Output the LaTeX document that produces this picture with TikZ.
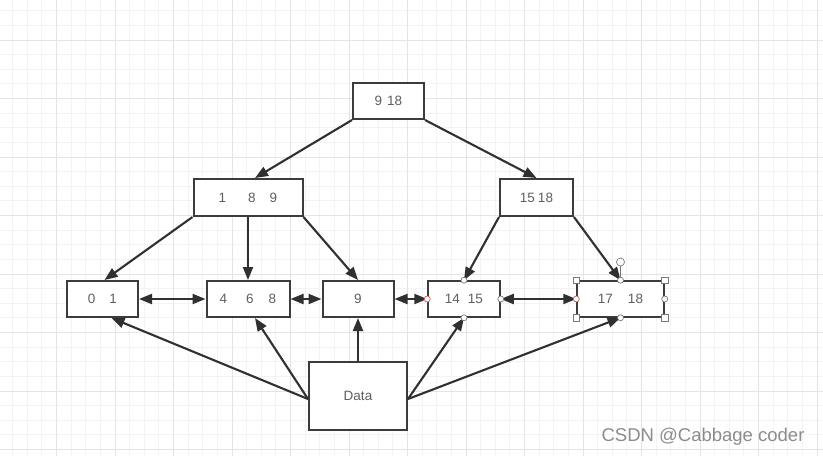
\documentclass[tikz,border=0pt]{standalone}
\usepackage{fontspec}
\setmainfont{Liberation Sans}
\usetikzlibrary{arrows.meta}
\definecolor{gridminor}{RGB}{243,243,243}
\definecolor{gridmajor}{RGB}{228,228,228}
\definecolor{boxline}{RGB}{60,60,60}
\definecolor{arrowline}{RGB}{48,48,48}
\definecolor{txt}{RGB}{95,95,95}
\definecolor{wm}{RGB}{140,140,140}
\definecolor{handle}{RGB}{120,120,120}
\definecolor{redhandle}{RGB}{200,90,80}
\tikzset{
  minorline/.style={draw=gridminor, line width=0.8pt},
  majorline/.style={draw=gridmajor, line width=0.9pt},
  keybox/.style={draw=boxline, line width=2pt, fill=white, rectangle, inner sep=0pt,
    minimum height=36pt, text=txt, font=\fontsize{13.5}{15}\selectfont},
  selbox/.style={keybox, line width=1.5pt},
  link/.style={draw=arrowline, line width=2.1pt, -{Triangle[length=13pt,width=10pt]}},
  dlink/.style={draw=arrowline, line width=2.1pt, {Triangle[length=13pt,width=10pt]}-{Triangle[length=13pt,width=10pt]}},
  hcirc/.style={circle, draw=handle, fill=white, line width=0.7pt, minimum size=6pt, inner sep=0pt},
  hcircred/.style={hcirc, draw=redhandle},
  hsq/.style={rectangle, draw=handle, fill=white, line width=0.7pt, minimum size=6.5pt, inner sep=0pt},
}
\begin{document}
\begin{tikzpicture}[x=1pt, y=-1pt]
\useasboundingbox (0,0) rectangle (823,456);
\fill[white] (0,0) rectangle (823,456);
% grid
\foreach \i in {-7,...,48} \draw[minorline] ({115+\i*14.625},0) -- ({115+\i*14.625},456);
\foreach \j in {-2,...,28} \draw[minorline] (0,{40+\j*14.625}) -- (823,{40+\j*14.625});
\foreach \i in {-1,...,12} \draw[majorline] ({115+\i*58.5},0) -- ({115+\i*58.5},456);
\foreach \j in {-1,...,7} \draw[majorline] (0,{40+\j*58.5}) -- (823,{40+\j*58.5});

% nodes
\node[keybox, minimum width=71pt] (root) at (388.5,101) {9\hspace{5pt}18};
\node[keybox, minimum width=109pt, minimum height=37pt] (n189) at (248,197.5) {1\hspace{22pt}8\hspace{14pt}9};
\node[keybox, minimum width=73pt, minimum height=37pt] (n1518) at (536.5,197.5) {15\hspace{3pt}18};
\node[keybox, minimum width=71pt] (n01) at (102.5,299) {0\hspace{14pt}1};
\node[keybox, minimum width=83pt] (n468) at (248,299) {4\hspace{19pt}6\hspace{15pt}8};
\node[keybox, minimum width=71pt] (n9) at (358,299) {9};
\node[selbox, minimum width=72pt] (n1415) at (464,299) {14\hspace{8pt}15};
\node[selbox, minimum width=87pt] (n1718) at (620.5,299) {17\hspace{15pt}18};
\node[keybox, minimum width=98pt, minimum height=68pt] (data) at (358,396) {Data};

% tree links
\draw[link] (root.south west) -- ([xshift=7pt]n189.north);
\draw[link] (root.south east) -- (n1518.north);
\draw[link] (n189.south west) -- ([xshift=2pt]n01.north);
\draw[link] (n189.south) -- (n468.north);
\draw[link] (n189.south east) -- (n9.north);
\draw[link] (n1518.south west) -- (n1415.north);
\draw[link] (n1518.south east) -- (n1718.north);

% leaf links
\draw[dlink] (n01.east) -- (n468.west);
\draw[dlink] (n468.east) -- (n9.west);
\draw[dlink] (n9.east) -- (n1415.west);
\draw[dlink] (n1415.east) -- (n1718.west);

% data links
\draw[link] ([yshift=-3pt]data.west) -- ([xshift=9pt]n01.south);
\draw[link] ([yshift=-3pt]data.west) -- ([xshift=7pt]n468.south);
\draw[link] (data.north) -- (n9.south);
\draw[link] ([yshift=-3pt]data.east) -- (n1415.south);
\draw[link] ([yshift=-3pt]data.east) -- (n1718.south);

% selection handles
\node[hcirc] (h1) at (n1415.north) {};
\node[hcirc] (h2) at (n1415.south) {};
\node[hcircred] (h3) at (n1415.west) {};
\node[hcirc] (h4) at (n1415.east) {};
\node[hsq] (s1) at (n1718.north west) {};
\node[hsq] (s2) at (n1718.north east) {};
\node[hsq] (s3) at (n1718.south west) {};
\node[hsq] (s4) at (n1718.south east) {};
\node[hcirc] (h5) at (n1718.north) {};
\node[hcirc] (h6) at (n1718.south) {};
\node[hcircred] (h7) at (n1718.west) {};
\node[hcirc] (h8) at (n1718.east) {};
\node[hcirc, minimum size=8pt] (rot) at (620.5,262) {};
\draw[draw=handle, line width=0.7pt] (rot) -- (h5);

% watermark
\node[text=wm, font=\fontsize{18.5}{20}\selectfont, anchor=east] (wmark) at (808,437) {CSDN @Cabbage coder};
\end{tikzpicture}
\end{document}
